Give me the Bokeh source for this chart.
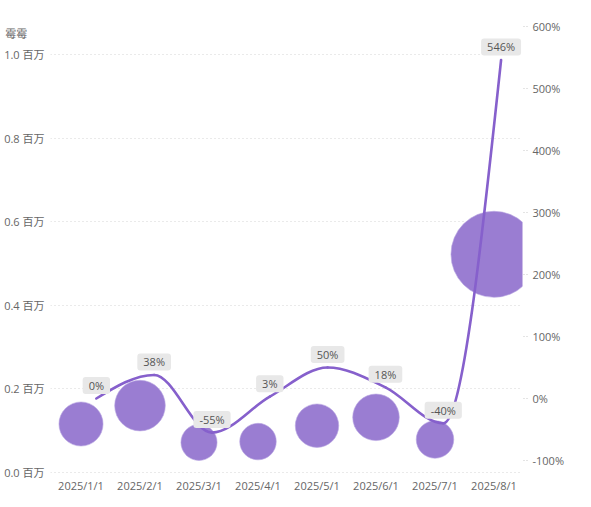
import math
from bokeh.plotting import figure
from bokeh.models import (Range1d, LinearAxis, FixedTicker, CustomJSTickFormatter,
                          ColumnDataSource)
from bokeh.embed import file_html
from bokeh.resources import INLINE
from bokeh.core.properties import value

# ---------------- data ----------------
months = ["2025/1/1", "2025/2/1", "2025/3/1", "2025/4/1",
          "2025/5/1", "2025/6/1", "2025/7/1", "2025/8/1"]
sales = [116000, 160000, 72000, 74000, 112000, 132000, 79000, 522000]
growth_pct = [0, 38, -55, 3, 50, 18, -40, 546]
growth_labels = ["0%", "38%", "-55%", "3%", "50%", "18%", "-40%", "546%"]
left_ticks = [0, 200000, 400000, 600000, 800000, 1000000]
right_ticks = [-100, 0, 100, 200, 300, 400, 500, 600]
axis_title = "霉霉"

# ---------------- style / layout ----------------
FONT = "'Open Sans', 'Noto Sans CJK SC', sans-serif"
GRAY = "#666666"
BUBBLE = "#9a7dd2"
LINE = "#8660cc"
LINE_X_SHIFT = 0.26
LINE_X_STEP = 0.98
W, H = 590, 500
X0, X1 = -0.517, 7.483
Y0, Y1 = -7177, 1081340
PX_PER_Y = 455 / (Y1 - Y0)
TITLE_TICK = round(left_ticks[-1] + 21 / PX_PER_Y)   # title sits 21px above top tick

xs = list(range(len(months)))
line_x = [LINE_X_SHIFT + i * LINE_X_STEP for i in xs]
bubble_size = [2 * (3.3 + 55 * math.sqrt(v / 1e6)) for v in sales]

p = figure(width=W, height=H,
           x_range=Range1d(X0, X1), y_range=Range1d(Y0, Y1),
           output_backend="svg", toolbar_location=None,
           min_border_left=50, min_border_right=W - 522,
           min_border_top=20, min_border_bottom=H - 475)
p.outline_line_color = None
p.extra_y_ranges = {"pct": Range1d(-124.2, 609.7)}

# x axis
xa = p.xaxis[0]
xa.ticker = FixedTicker(ticks=xs)
xa.major_label_overrides = {i: m for i, m in zip(xs, months)}
xa.axis_line_color = None
xa.major_tick_line_color = None
xa.minor_tick_line_color = None
xa.major_tick_in = 0
xa.major_tick_out = 0
xa.minor_tick_out = 0
xa.major_label_standoff = 2
xa.major_label_text_font = FONT
xa.major_label_text_font_size = "11px"
xa.major_label_text_color = GRAY

# left axis (value ticks + axis title at the top)
ya = p.yaxis[0]
ya.ticker = FixedTicker(ticks=left_ticks + [TITLE_TICK])
ya.formatter = CustomJSTickFormatter(
    args=dict(title=axis_title + "\u00a0" * 6, top=left_ticks[-1]),
    code="if (tick > top + 1) { return title; } return (tick/1e6).toFixed(1) + ' 百万';")
ya.axis_line_color = None
ya.major_tick_line_color = None
ya.minor_tick_line_color = None
ya.major_tick_in = 0
ya.major_tick_out = 0
ya.minor_tick_out = 0
ya.major_label_standoff = 6
ya.major_label_text_font = FONT
ya.major_label_text_font_size = "11px"
ya.major_label_text_color = GRAY

# right axis
ra = LinearAxis(y_range_name="pct", ticker=FixedTicker(ticks=right_ticks),
                formatter=CustomJSTickFormatter(code="return tick.toFixed(0) + '%';"))
ra.axis_line_color = None
ra.minor_tick_line_color = None
ra.minor_tick_out = 0
ra.major_tick_in = 0
ra.major_tick_out = 5
ra.major_tick_line_color = "#c8c8c8"
ra.major_tick_line_dash = "1 2"
ra.major_label_standoff = 5
ra.major_label_text_font = FONT
ra.major_label_text_font_size = "11px"
ra.major_label_text_color = GRAY
p.add_layout(ra, "right")

# grid
p.xgrid.visible = False
p.ygrid.ticker = FixedTicker(ticks=left_ticks)
p.ygrid.grid_line_color = "#d4d4d4"
p.ygrid.grid_line_dash = "1 3"

# bubbles
src = ColumnDataSource(dict(x=xs, y=sales, s=bubble_size))
p.scatter("x", "y", size="s", source=src, fill_color=BUBBLE,
          line_color="#b9a6e2", line_width=0.6)

# smooth (monotone) line through growth points
def monotone_beziers(x, y):
    n = len(x)
    sg = lambda v: -1 if v < 0 else 1
    t = [0.0] * n
    for i in range(1, n - 1):
        h0 = x[i] - x[i - 1]
        h1 = x[i + 1] - x[i]
        s0 = (y[i] - y[i - 1]) / h0
        s1 = (y[i + 1] - y[i]) / h1
        pp = (s0 * h1 + s1 * h0) / (h0 + h1)
        t[i] = (sg(s0) + sg(s1)) * min(abs(s0), abs(s1), 0.5 * abs(pp))
    t[0] = (3 * (y[1] - y[0]) / (x[1] - x[0]) - t[1]) / 2
    t[-1] = (3 * (y[-1] - y[-2]) / (x[-1] - x[-2]) - t[-2]) / 2
    seg = dict(x0=[], y0=[], x1=[], y1=[], cx0=[], cy0=[], cx1=[], cy1=[])
    for i in range(n - 1):
        dx = (x[i + 1] - x[i]) / 3
        seg["x0"].append(x[i]); seg["y0"].append(y[i])
        seg["x1"].append(x[i + 1]); seg["y1"].append(y[i + 1])
        seg["cx0"].append(x[i] + dx); seg["cy0"].append(y[i] + dx * t[i])
        seg["cx1"].append(x[i + 1] - dx); seg["cy1"].append(y[i + 1] - dx * t[i + 1])
    return seg

bz = ColumnDataSource(monotone_beziers(line_x, growth_pct))
p.bezier(x0="x0", y0="y0", x1="x1", y1="y1", cx0="cx0", cy0="cy0",
         cx1="cx1", cy1="cy1", source=bz, y_range_name="pct",
         line_color=LINE, line_width=2.6, line_cap="round")

# data labels
lab = ColumnDataSource(dict(x=line_x, y=growth_pct, t=growth_labels))
p.text(x="x", y="y", text="t", source=lab, y_range_name="pct", y_offset=-13,
       text_align="center", text_baseline="middle",
       text_font=value(FONT), text_font_size="11px", text_color="#555555",
       background_fill_color="#e8e8e8", border_radius=3, padding=(6, 1))

open("out.html", "w").write(file_html(p, INLINE))
